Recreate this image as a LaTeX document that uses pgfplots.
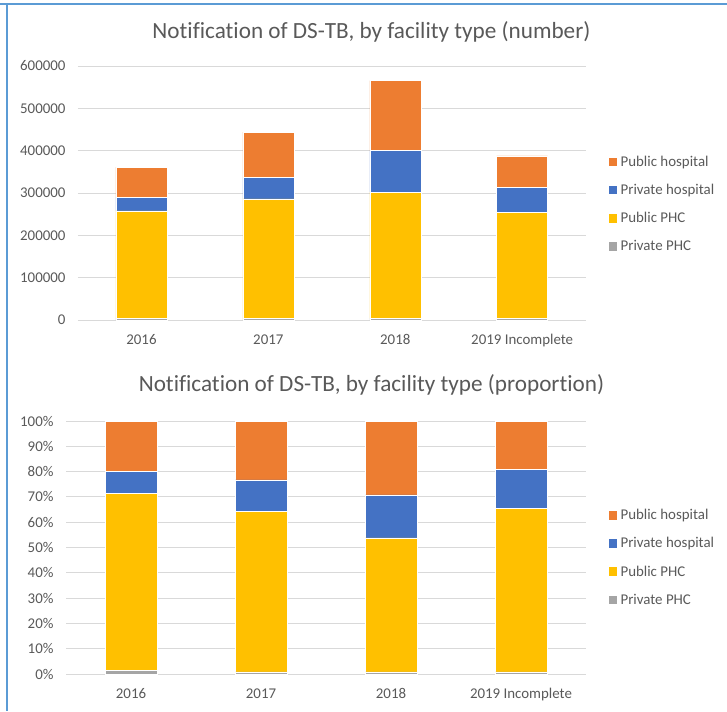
\documentclass[border=0pt]{standalone}
\usepackage{fontspec}
\setmainfont{Carlito}[Ligatures={NoCommon}]
\usepackage{pgfplots}
\pgfplotsset{compat=1.18}
\definecolor{pubhosp}{HTML}{ED7D31}
\definecolor{privhosp}{HTML}{4472C4}
\definecolor{pubphc}{HTML}{FFC000}
\definecolor{privphc}{HTML}{A5A5A5}
\definecolor{txtgray}{HTML}{595959}
\definecolor{gridgray}{HTML}{D9D9D9}
\definecolor{framebl}{HTML}{5B9BD5}

\pgfplotsset{
  xlcommon/.style={
    scale only axis, anchor=south west,
    ybar stacked,
    xmin=-0.5, xmax=3.5,
    xtick={0,1,2,3},
    xticklabels={2016,2017,2018,2019 Incomplete},
    axis line style={draw=none},
    major tick length=0pt,
    ymajorgrids, grid style={draw=gridgray, line width=1pt},
    tick label style={font=\fontsize{14.9}{17}\selectfont, text=txtgray},
    /pgf/number format/assume math mode=true,
    xticklabel style={yshift=-11pt},
    yticklabel style={xshift=-9pt},
    reverse legend,
    legend cell align=left,
    legend style={draw=none, fill=none, inner sep=0pt, anchor=west,
      font=\fontsize{14.9}{17}\selectfont, text=txtgray,
      row sep=12.3pt, nodes={inner xsep=3.5pt}},
    legend image code/.code={\fill[##1,draw=none] (0pt,-4.2pt) rectangle (8.5pt,4.2pt);},
  },
}

\begin{document}
\begin{tikzpicture}[x=1pt,y=1pt]
\path[use as bounding box] (0,0) rectangle (727,-711);
\draw[framebl, line width=1.5pt] (0,-4) -- (727,-4);
\draw[framebl, line width=1.5pt] (7,-4) -- (7,-711);

\node[text=txtgray, font=\fontsize{23.2}{28}\selectfont] at (371.5,-32) {Notification of DS-TB, by facility type (number)};
\node[text=txtgray, font=\fontsize{23.2}{28}\selectfont] at (371.5,-385) {Notification of DS-TB, by facility type (proportion)};

% number of notifications
\begin{axis}[xlcommon,
    at={(78pt,-320pt)}, width=507.6pt, height=254pt,
    bar width=51pt,
    ymin=0, ymax=600000, ytick={0,100000,...,600000},
    scaled y ticks=false,
    yticklabel style={/pgf/number format/.cd, fixed, 1000 sep={}},
    legend style={at={(1.045,0.456)}},
]
\addplot[fill=privphc, draw=white, line width=0.5pt] coordinates {(0,4700) (1,3500) (2,4500) (3,3100)};
\addplot[fill=pubphc, draw=white, line width=0.5pt] coordinates {(0,252800) (1,282500) (2,297400) (3,250600)};
\addplot[fill=privhosp, draw=white, line width=0.5pt] coordinates {(0,32500) (1,50400) (2,98300) (3,59100)};
\addplot[fill=pubhosp, draw=white, line width=0.5pt] coordinates {(0,71000) (1,107600) (2,165500) (3,74900)};
\legend{Private PHC, Public PHC, Private hospital, Public hospital}
\end{axis}

% proportion of notifications
\begin{axis}[xlcommon,
    at={(66pt,-674pt)}, width=520pt, height=253pt,
    bar width=51.5pt,
    ymin=0, ymax=100, ytick={0,10,...,100},
    yticklabel={\pgfmathprintnumber{\tick}\%},
    legend style={at={(1.043,0.4605)}},
]
\addplot[fill=privphc, draw=white, line width=0.5pt] coordinates {(0,1.3) (1,0.8) (2,0.8) (3,0.8)};
\addplot[fill=pubphc, draw=white, line width=0.5pt] coordinates {(0,70.2) (1,63.4) (2,53.0) (3,64.8)};
\addplot[fill=privhosp, draw=white, line width=0.5pt] coordinates {(0,8.5) (1,12.5) (2,17.0) (3,15.2)};
\addplot[fill=pubhosp, draw=white, line width=0.5pt] coordinates {(0,20.0) (1,23.3) (2,29.2) (3,19.2)};
\legend{Private PHC, Public PHC, Private hospital, Public hospital}
\end{axis}
\end{tikzpicture}
\end{document}
